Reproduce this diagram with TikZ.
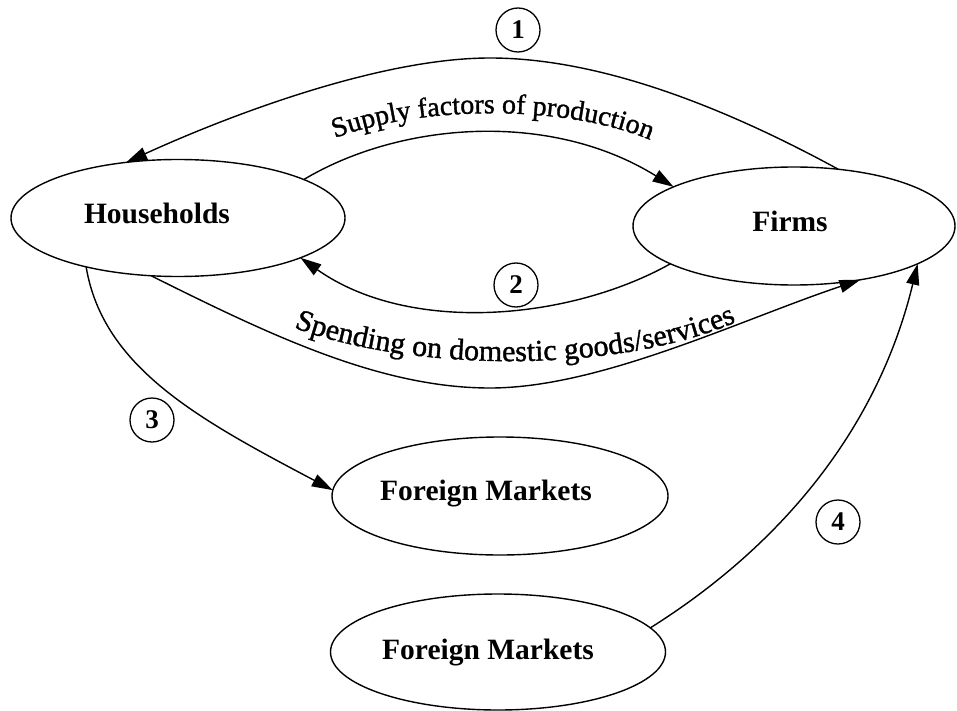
\documentclass[tikz,border=0pt]{standalone}
\usepackage{fontspec}
\setmainfont{Liberation Serif}
\newfontface\flowface[FakeBold=1.2]{Liberation Serif}
\usetikzlibrary{shapes.geometric,arrows.meta,decorations.text}
\newcommand\nodefont{\fontsize{29.5}{32}\selectfont\bfseries}
\newcommand\numfont{\fontsize{27}{30}\selectfont\bfseries}
\newcommand\supfont{\flowface\fontsize{28}{30}\selectfont}
\newcommand\spendfont{\flowface\fontsize{30}{32}\selectfont}
\begin{document}
\begin{tikzpicture}[x=1pt,y=-1pt,
  ell/.style={ellipse,draw,line width=1.4pt,inner sep=0pt,outer sep=0pt},
  num/.style={circle,draw,line width=1.3pt,minimum size=44pt,inner sep=0pt,font=\numfont},
  flow/.style={line width=1.4pt,-{Triangle[length=21pt,width=13pt]}},
  lbl/.style={font=\nodefont,inner sep=0pt}
]
\useasboundingbox (0,0) rectangle (957,711);
% ellipses
\node[ell,minimum width=334pt,minimum height=117pt] (hh) at (178,218) {};
\node[ell,minimum width=322pt,minimum height=118pt] (fi) at (794,226) {};
\node[ell,minimum width=336pt,minimum height=118pt] (fm1) at (500,496) {};
\node[ell,minimum width=335pt,minimum height=116pt] (fm2) at (498,652) {};
% texts
\node[lbl] (hht) at (157,213) {Households};
\node[lbl] (fit) at (790,221) {Firms};
\node[lbl] (fm1t) at (486,494) {Foreign Markets};
\node[lbl] (fm2t) at (488,653) {Foreign Markets};
% numbers
\node[num] (n1) at (518,30) {1};
\node[num] (n2) at (516,285) {2};
\node[num] (n3) at (152,420) {3};
\node[num] (n4) at (838,522) {4};
% waypoints
\coordinate (top1) at (490,58);
\coordinate (bot2) at (490,388);
% connectors
\draw[flow] (fi.52) .. controls (724,107) and (600,58) .. (top1) .. controls (380,58) and (230,115) .. (hh.133);
\draw[flow] (hh.17) .. controls (400,122) and (550,110) .. (fi.162);
\draw[flow] (fi.197) .. controls (570,320) and (410,335) .. (hh.342);
\draw[flow] (hh.245) .. controls (270,335) and (380,388) .. (bot2) .. controls (600,388) and (740,320) .. (fi.321);
\draw[flow] (hh.208) .. controls (103,368) and (200,420) .. (fm1.178);
\draw[flow] (fm2.9) .. controls (790,540) and (880,420) .. (fi.343);
% curved labels
\path[decorate,decoration={text along path,text align=center,text={|\supfont|Supply factors of production}}]
  (330,140) .. controls (420,104) and (570,104) .. (655,142);
\path[decorate,decoration={text along path,text align=center,text={|\spendfont|Spending on domestic goods/services}}]
  (285,324) .. controls (400,372) and (620,377) .. (745,318);
\end{tikzpicture}
\end{document}
